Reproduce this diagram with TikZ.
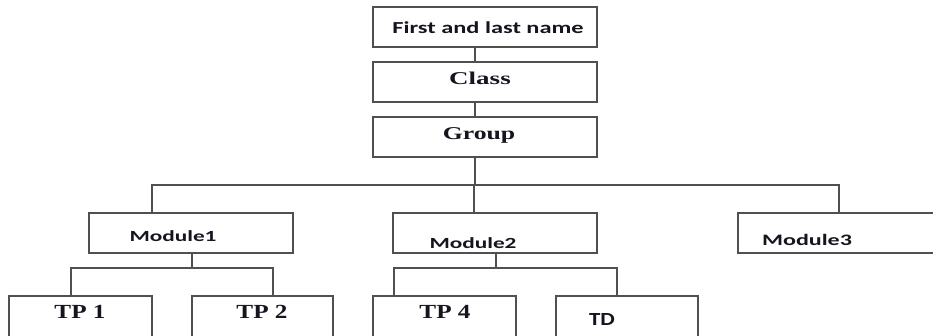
\documentclass[tikz,border=0pt]{standalone}
\usepackage{fontspec}
\usepackage{graphicx}
\setmainfont{Liberation Serif}
\newfontfamily\calfont{Carlito}
\newfontfamily\timesfont{Liberation Serif}
\definecolor{linegray}{HTML}{505050}
\definecolor{inkc}{HTML}{151520}
\newcommand{\sx}[3]{\fontsize{#2bp}{#2bp}\selectfont\scalebox{#1}[1]{#3}}
\begin{document}
\begin{tikzpicture}[x=1bp,y=-1bp,
  box/.style={draw=linegray,line width=1.7bp,inner sep=0pt,outer sep=0pt,anchor=north west,fill=none},
  conn/.style={draw=linegray,line width=1.7bp},
  txt/.style={inner sep=0pt,outer sep=0pt,anchor=base,text=inkc,font=\bfseries}]
\useasboundingbox (0,0) rectangle (933,335);
\clip (0,0) rectangle (933,335);
% top boxes
\node[box,minimum width=224bp,minimum height=40bp] (b0) at (373,7) {};
\node[box,minimum width=224bp,minimum height=40bp] (b1) at (373,62) {};
\node[box,minimum width=224bp,minimum height=40bp] (b2) at (373,117) {};
% modules
\node[box,minimum width=204bp,minimum height=40bp] (m1) at (89,213) {};
\node[box,minimum width=204bp,minimum height=40bp] (m2) at (393,213) {};
\node[box,minimum width=210bp,minimum height=40bp] (m3) at (738,213) {};
% bottom boxes
\node[box,minimum width=143bp,minimum height=50bp] (t1) at (9,296) {};
\node[box,minimum width=141bp,minimum height=50bp] (t2) at (192,296) {};
\node[box,minimum width=143bp,minimum height=50bp] (t4) at (373,296) {};
\node[box,minimum width=142bp,minimum height=50bp] (td) at (556,296) {};
% texts
\node[txt] (tn) at (488,33) {\calfont\sx{1.45}{16.8}{First and last name}};
\node[txt] (tc) at (480,84) {\timesfont\sx{1.5}{18}{Class}};
\node[txt] (tg) at (479,139) {\timesfont\sx{1.43}{18}{Group}};
\node[txt] (tm1) at (173,241) {\calfont\sx{1.5}{15.5}{Module1}};
\node[txt] (tm2) at (473,248) {\calfont\sx{1.5}{15.5}{Module2}};
\node[txt] (tm3) at (807,245) {\calfont\sx{1.5}{16}{Module3}};
\node[txt] (tt1) at (80,318) {\timesfont\sx{1.26}{20}{TP 1}};
\node[txt] (tt2) at (262,318) {\timesfont\sx{1.26}{20}{TP 2}};
\node[txt] (tt4) at (445,318) {\timesfont\sx{1.26}{20}{TP 4}};
\node[txt] (ttd) at (602,325) {\calfont\sx{1.24}{18.5}{TD}};
% connectors
\coordinate (v) at (475,0);
\draw[conn] (b0.south -| v) -- (b1.north -| v);
\draw[conn] (b1.south -| v) -- (b2.north -| v);
\coordinate (hl) at (152,185);
\coordinate (hr) at (839,185);
\coordinate (hm) at (474,185);
\draw[conn] (b2.south -| v) -- (v |- hl);
\draw[conn] (m1.north -| hl) -- (hl) -- (hr) -- (m3.north -| hr);
\draw[conn] (hm) -- (m2.north -| hm);
% module1 children
\coordinate (a1) at (192,268);
\coordinate (a1l) at (71,268);
\coordinate (a1r) at (273,268);
\draw[conn] (m1.south -| a1) -- (a1);
\draw[conn] (t1.north -| a1l) -- (a1l) -- (a1r) -- (t2.north -| a1r);
% module2 children
\coordinate (a2) at (496,268);
\coordinate (a2l) at (394,268);
\coordinate (a2r) at (617,268);
\draw[conn] (m2.south -| a2) -- (a2);
\draw[conn] (t4.north -| a2l) -- (a2l) -- (a2r) -- (td.north -| a2r);
\end{tikzpicture}
\end{document}
